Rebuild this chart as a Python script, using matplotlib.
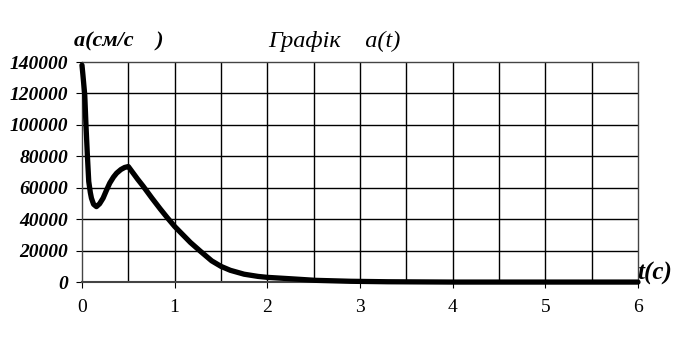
import matplotlib.pyplot as plt
import numpy as np

# data
t = [0.0, 0.01, 0.03, 0.043, 0.058, 0.073, 0.09, 0.102, 0.125, 0.156, 0.19,
     0.228, 0.265, 0.30, 0.34, 0.374, 0.42, 0.46, 0.50, 0.55, 0.60, 0.66,
     0.755, 0.845, 0.92, 1.0, 1.17, 1.28, 1.40, 1.50, 1.60, 1.75, 1.90, 2.0,
     2.28, 2.52, 2.9, 3.3, 4.0, 5.0, 6.0]
a = [138000, 131900, 119000, 100000, 81000, 64000, 57000, 53400, 49500,
     48000, 49800, 53400, 58500, 63000, 66800, 69300, 71600, 72900, 73500,
     69500, 65500, 61000, 53400, 46500, 41000, 35400, 25200, 19500, 13500,
     10000, 7500, 5000, 3600, 3000, 2000, 1100, 500, 200, 0, 0, 0]

x_ticks = [0, 1, 2, 3, 4, 5, 6]
y_ticks = [0, 20000, 40000, 60000, 80000, 100000, 120000, 140000]

plt.rcParams['font.family'] = ['Liberation Serif', 'DejaVu Serif']

fig = plt.figure(figsize=(6.86, 3.37), dpi=100)
ax = fig.add_axes([0.1195, 0.163, 0.8105, 0.653])

ax.plot(t, a, color='black', lw=3.8, solid_capstyle='round',
        solid_joinstyle='round', zorder=3, clip_on=False)

ax.set_xlim(0, 6)
ax.set_ylim(0, 140000)
ax.set_xticks(x_ticks)
ax.set_yticks(y_ticks)
ax.set_xticklabels([str(v) for v in x_ticks], fontsize=14)
ax.set_yticklabels([str(v) for v in y_ticks], fontsize=14,
                   fontweight='bold', style='italic')

# inner grid only, so the frame stays dotted
ax.set_xticks(np.arange(0.5, 6.0, 0.5), minor=True)
ax.set_yticks(y_ticks[1:-1], minor=True)
ax.xaxis.remove_overlapping_locs = False
ax.yaxis.remove_overlapping_locs = False
ax.tick_params(axis='x', which='major', length=4, pad=8, color='black')
ax.tick_params(axis='y', which='major', length=4, pad=6)
ax.tick_params(which='minor', length=0)
ax.grid(True, which='minor', color='black', lw=1.0)
ax.set_axisbelow(True)

for side in ['top', 'right', 'left', 'bottom']:
    ax.spines[side].set_linestyle((0, (1, 1)))
    ax.spines[side].set_linewidth(1.0)
    ax.spines[side].set_color('#444444')
ax.spines['bottom'].set_linewidth(1.5)

fig.text(0.391, 0.862, 'Графік    a(t)', fontsize=17.5, style='italic')
fig.text(0.108, 0.862, 'a(см/с    )', fontsize=16, style='italic',
         fontweight='bold')
fig.text(0.929, 0.17, 't(c)', fontsize=18, style='italic',
         fontweight='bold')

fig.savefig('out.png', dpi=100)
